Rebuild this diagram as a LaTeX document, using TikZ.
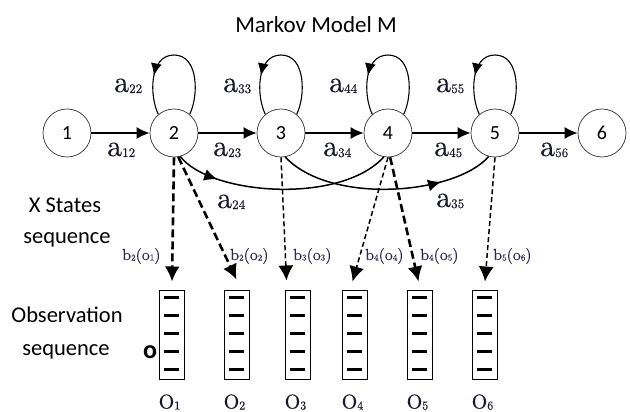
\documentclass[tikz,border=0pt]{standalone}
\usepackage{fontspec}
\newfontfamily\carlito{Carlito}
\newfontfamily\labfont{lmroman10-regular.otf}[FakeBold=0.25]
\usetikzlibrary{arrows.meta,decorations.markings,calc}
\definecolor{alabcol}{RGB}{25,25,45}
\definecolor{blabcol}{RGB}{40,40,80}
\newcommand\asub[1]{{\fontsize{13}{13}\selectfont\raisebox{-1pt}{#1}}}
\newcommand\bsub[1]{{\fontsize{9}{9}\selectfont\raisebox{-0.5pt}{#1}}}
\newcommand\osub[1]{{\fontsize{12}{12}\selectfont\raisebox{-1pt}{#1}}}
\begin{document}
\begin{tikzpicture}[x=1pt,y=-1pt,
  state/.style={circle, draw=black!80, line width=0.7pt, minimum size=48pt, inner sep=0pt, font=\carlito\fontsize{20}{20}\selectfont},
  harrow/.style={line width=1.8pt, -{Latex[length=13pt,width=12pt]}},
  looparrow/.style={line width=1.1pt, postaction={decorate},
    decoration={markings, mark=at position 0.72 with {\arrow{Latex[length=12pt,width=11pt]}}}},
  carrow/.style={line width=1.5pt, postaction={decorate}},
  thickdash/.style={line width=2.6pt, dash pattern=on 8pt off 4pt, -{Latex[length=15pt,width=15pt]}},
  thindash/.style={line width=1.5pt, dash pattern=on 5pt off 3pt, -{Latex[length=15pt,width=15pt]}},
  obsbox/.style={draw, line width=1pt, minimum width=25pt, minimum height=89pt, inner sep=0pt},
  bar/.style={line width=3pt},
  alab/.style={inner sep=0pt, anchor=base west, text=alabcol, font=\labfont\fontsize{30}{30}\selectfont},
  blab/.style={inner sep=0pt, anchor=base west, text=blabcol, font=\labfont\fontsize{16}{16}\selectfont},
  olab/.style={inner sep=0pt, anchor=base west, text=alabcol, font=\labfont\fontsize{20}{20}\selectfont},
  sidetext/.style={inner sep=0pt, anchor=base, font=\carlito\fontsize{22.5}{22.5}\selectfont}
]
\useasboundingbox (0,0) rectangle (630,412);

% title
\node[sidetext, font=\carlito\fontsize{23}{23}\selectfont] (title) at (316,33) {Markov Model M};

% states
\foreach \i/\x in {1/67,2/174,3/281,4/388,5/495,6/602}
  \node[state] (n\i) at (\x,133) {\i};

% forward transitions
\draw[harrow] (n1) -- (n2);
\draw[harrow] (n2) -- (n3);
\draw[harrow] (n3) -- (n4);
\draw[harrow] (n4) -- (n5);
\draw[harrow] (n5) -- (n6);

% self loops
\foreach \i in {2,3,4,5}
  \draw[looparrow] (n\i.50) .. controls +(9,-18) and +(25,0) .. ($(n\i.center)+(0,-78)$)
     .. controls +(-25,0) and +(-9,-18) .. (n\i.130);

% skip transitions
\draw[carrow, decoration={markings, mark=at position 0.2 with {\arrow{Latex[length=13pt,width=12pt]}}}]
  (n2.-75) .. controls (210,195) and (340,205) .. (n4.-100);
\draw[carrow, decoration={markings, mark=at position 0.75 with {\arrow{Latex[length=13pt,width=12pt]}}}]
  (n3.-80) .. controls (330,205) and (455,195) .. (n5.-105);

% transition labels
\node[alab] (l12) at (107,156) {a\asub{12}};
\node[alab] (l23) at (213,156) {a\asub{23}};
\node[alab] (l34) at (323,156) {a\asub{34}};
\node[alab] (l45) at (434,156) {a\asub{45}};
\node[alab] (l56) at (540,156) {a\asub{56}};
\node[alab] (l22) at (114,92) {a\asub{22}};
\node[alab] (l33) at (223,92) {a\asub{33}};
\node[alab] (l44) at (329,92) {a\asub{44}};
\node[alab] (l55) at (436,92) {a\asub{55}};
\node[alab] (l24) at (217,208) {a\asub{24}};
\node[alab] (l35) at (436,207) {a\asub{35}};

% observation boxes
\foreach \k/\x in {1/171.5,2/236.5,3/297.5,4/354.5,5/419.5,6/484.5}{
  \node[obsbox] (o\k) at (\x,334.5) {};
  \foreach \d in {8,26,44,62,80}
    \draw[bar] ($(o\k.north west)+(5,\d)$) -- ++(15,0);
  \node[olab] (ol\k) at ($(o\k.south west)+(0,29)$) {O\osub{\k}};
}

% emissions
\draw[thickdash] (n2.south) -- ($(o1.north)+(0.5,-8)$);
\draw[thickdash] (n2.-80) -- ($(o2.north)+(0,-10)$);
\draw[thindash] (n3.south) -- ($(o3.north)+(-11,-9)$);
\draw[thindash] (n4.south) -- ($(o4.north)+(-2,-8)$);
\draw[thickdash] (n4.-85) -- ($(o5.north)+(-1,-8)$);
\draw[thindash] (n5.south) -- ($(o6.north)+(0.5,-8)$);

% emission labels
\node[blab] (b1) at (122,260) {b\bsub{2}(o\bsub{1})};
\node[blab] (b2) at (230,260) {b\bsub{2}(o\bsub{2})};
\node[blab] (b3) at (293,260) {b\bsub{3}(o\bsub{3})};
\node[blab] (b4) at (365,260) {b\bsub{4}(o\bsub{4})};
\node[blab] (b5) at (420,260) {b\bsub{4}(o\bsub{5})};
\node[blab] (b6) at (493,260) {b\bsub{5}(o\bsub{6})};

% side texts
\node[sidetext] (xs1) at (65,212) {X States};
\node[sidetext] (xs2) at (67,243) {sequence};
\node[sidetext] (os1) at (67,322) {Observation};
\node[sidetext] (os2) at (66,355) {sequence};
\node[sidetext, font=\carlito\bfseries\fontsize{26}{26}\selectfont] (obs) at (150,358) {o};
\end{tikzpicture}
\end{document}
